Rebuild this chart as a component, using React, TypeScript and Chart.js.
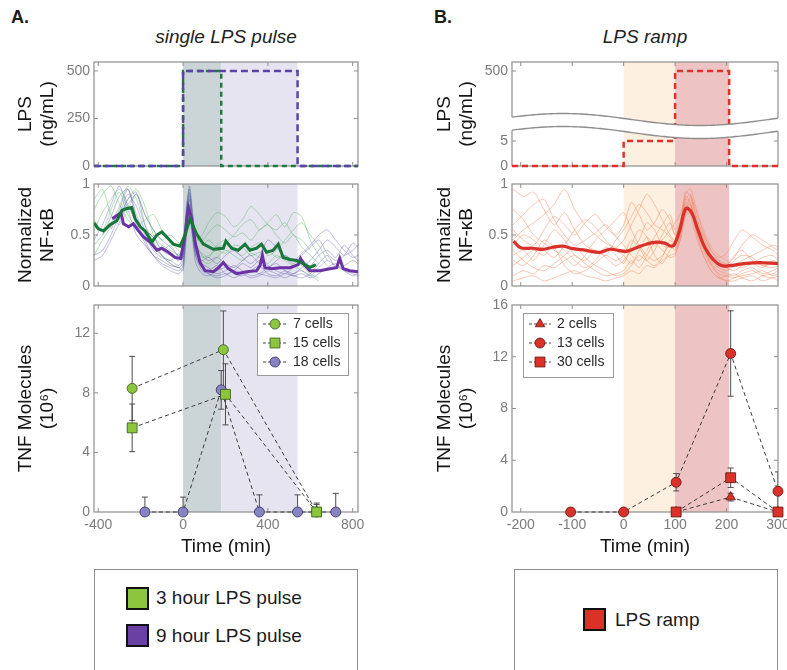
import React, { useEffect, useRef } from 'react';
import { Chart, registerables } from 'chart.js';

Chart.register(...registerables);

const FONT = '"Liberation Sans", "Helvetica Neue", Helvetica, Arial, sans-serif';
const TICK_COLOR = '#7c7c7c';
const FRAME_COLOR = '#8e8e8e';
const TEXT_COLOR = '#151515';
Chart.defaults.font.family = FONT;

// ---------------- axes ----------------
const pulseXRange = [-420, 825];
const rampXRange = [-217, 300];
const pulseXTicks = [-400, 0, 400, 800];
const rampXTicks = [-200, -100, 0, 100, 200, 300];

// ---------------- stimulus bands ----------------
const pulse3Band = [0, 180];
const pulse9Band = [180, 540];
const rampLowBand = [0, 100];
const rampHighBand = [100, 205];

// ---------------- LPS schedules (ng/mL) ----------------
const pulse3Times = [-420, 0, 180, 825];
const pulse3Levels = [0, 500, 0, 0];
const pulse9Times = [-420, 0, 540, 825];
const pulse9Levels = [0, 500, 0, 0];
const rampTimes = [-217, 0, 100, 205, 300];
const rampLevels = [0, 5, 500, 0, 0];
const lpsPulseTicks = [0, 250, 500];
const lpsRampTicks = [0, 5, 500];
const lpsRampTickLabels = ['0', '5', '500'];
const nfkbTicks = [0, 0.5, 1];
const nfkbTickLabels = ['0', '0.5', '1'];

// ---------------- NF-kB single-cell traces, pulse experiment ----------------
const pulseGrid = [-420, -380, -340, -300, -260, -220, -180, -140, -100, -60, -20, 0, 15, 30, 45, 60, 90, 120, 160, 200, 240, 280, 320, 360, 400, 440, 480, 520, 560, 600, 640, 680, 720, 760, 800, 825];
const greenTrace1 = [0.55, 0.72, 0.85, 0.95, 0.80, 0.62, 0.55, 0.48, 0.40, 0.35, 0.30, 0.38, 0.70, 0.85, 0.60, 0.48, 0.45, 0.52, 0.60, 0.55, 0.48, 0.52, 0.45, 0.55, 0.60, 0.50, 0.42, 0.50, 0.38, 0.30, 0.22, null, null, null, null, null];
const greenTrace2 = [0.85, 0.95, 0.70, 0.60, 0.75, 0.90, 0.70, 0.55, 0.45, 0.50, 0.42, 0.40, 0.75, 0.95, 0.70, 0.50, 0.40, 0.45, 0.38, 0.42, 0.50, 0.60, 0.65, 0.55, 0.62, 0.70, 0.58, 0.72, 0.68, 0.45, 0.30, 0.20, null, null, null, null];
const greenTrace3 = [0.40, 0.50, 0.62, 0.78, 0.98, 0.85, 0.60, 0.45, 0.30, 0.22, 0.18, 0.25, 0.55, 0.80, 0.55, 0.35, 0.28, 0.30, 0.35, 0.32, 0.40, 0.38, 0.30, 0.33, 0.35, 0.28, 0.30, 0.25, 0.20, 0.12, 0.08, null, null, null, null, null];
const greenTrace4 = [0.65, 0.55, 0.75, 0.92, 0.70, 0.58, 0.65, 0.70, 0.55, 0.42, 0.35, 0.30, 0.62, 0.90, 0.65, 0.45, 0.50, 0.62, 0.72, 0.68, 0.58, 0.65, 0.78, 0.70, 0.60, 0.55, 0.62, 0.50, 0.45, 0.35, null, null, null, null, null, null];
const greenTrace5 = [0.30, 0.45, 0.58, 0.70, 0.85, 0.95, 0.78, 0.50, 0.35, 0.40, 0.28, 0.32, 0.60, 0.72, 0.50, 0.38, 0.32, 0.28, 0.40, 0.45, 0.35, 0.30, 0.38, 0.42, 0.30, 0.35, 0.45, 0.55, 0.62, 0.50, 0.40, 0.25, null, null, null, null];
const greenTrace6 = [0.75, 0.90, 0.98, 0.80, 0.65, 0.55, 0.45, 0.38, 0.30, 0.25, 0.32, 0.28, 0.50, 0.68, 0.45, 0.30, 0.25, 0.22, 0.28, 0.35, 0.30, 0.25, 0.32, 0.28, 0.22, 0.30, 0.25, 0.20, 0.15, 0.10, 0.05, null, null, null, null, null];
const purpleTrace1 = [null, null, 0.55, 0.75, 0.95, 0.70, 0.50, 0.35, 0.28, 0.25, 0.20, 0.30, 0.75, 0.95, 0.60, 0.30, 0.18, 0.15, 0.20, 0.12, 0.15, 0.22, 0.18, 0.25, 0.20, 0.15, 0.12, 0.18, 0.25, 0.20, 0.30, 0.35, 0.28, 0.40, 0.30, 0.25];
const purpleTrace2 = [0.45, 0.60, 0.80, 0.98, 0.75, 0.50, 0.40, 0.30, 0.22, 0.18, 0.15, 0.20, 0.65, 0.88, 0.50, 0.22, 0.12, 0.10, 0.15, 0.18, 0.12, 0.10, 0.15, 0.20, 0.12, 0.10, 0.15, 0.12, 0.18, 0.25, 0.35, 0.45, 0.38, 0.30, 0.35, 0.40];
const purpleTrace3 = [null, null, null, 0.65, 0.85, 0.92, 0.60, 0.42, 0.30, 0.22, 0.18, 0.22, 0.70, 0.98, 0.72, 0.40, 0.22, 0.18, 0.12, 0.15, 0.20, 0.15, 0.10, 0.12, 0.18, 0.22, 0.15, 0.10, 0.12, 0.08, 0.12, 0.18, 0.22, 0.15, 0.10, 0.12];
const purpleTrace4 = [0.30, 0.35, 0.50, 0.70, 0.90, 0.78, 0.55, 0.48, 0.35, 0.30, 0.25, 0.28, 0.60, 0.80, 0.55, 0.32, 0.25, 0.28, 0.22, 0.30, 0.35, 0.28, 0.22, 0.30, 0.45, 0.38, 0.28, 0.22, 0.30, 0.38, 0.45, 0.32, 0.25, 0.30, 0.42, 0.38];
const purpleTrace5 = [null, 0.50, 0.68, 0.88, 0.95, 0.65, 0.45, 0.30, 0.20, 0.15, 0.12, 0.18, 0.55, 0.85, 0.60, 0.35, 0.20, 0.12, 0.08, 0.10, 0.15, 0.12, 0.08, 0.10, 0.15, 0.12, 0.08, 0.12, 0.15, 0.10, 0.18, 0.25, 0.20, 0.15, 0.12, 0.10];
const purpleTrace6 = [null, null, 0.60, 0.72, 0.80, 0.90, 0.70, 0.55, 0.45, 0.38, 0.30, 0.35, 0.68, 0.92, 0.68, 0.42, 0.30, 0.25, 0.28, 0.22, 0.18, 0.25, 0.30, 0.22, 0.18, 0.25, 0.30, 0.25, 0.32, 0.40, 0.50, 0.55, 0.45, 0.35, 0.28, 0.30];
const purpleTrace7 = [0.25, 0.30, 0.45, 0.62, 0.78, 0.60, 0.42, 0.30, 0.25, 0.20, 0.18, 0.15, 0.45, 0.75, 0.50, 0.28, 0.15, 0.12, 0.10, 0.12, 0.08, 0.12, 0.15, 0.12, 0.10, 0.08, 0.12, 0.10, 0.08, 0.12, 0.22, 0.30, 0.18, 0.20, 0.25, 0.22];

// population means
const greenMeanTimes = [-420, -400, -375, -344, -312, -289, -265, -242, -226, -202, -179, -147, -124, -100, -77, -45, -14, 9, 33, 64, 96, 143, 190, 202, 229, 260, 292, 315, 347, 370, 394, 425, 449, 472, 504, 535, 566, 598, 626];
const greenMeanVals = [0.62, 0.56, 0.54, 0.60, 0.64, 0.74, 0.76, 0.77, 0.66, 0.58, 0.54, 0.43, 0.50, 0.53, 0.48, 0.41, 0.39, 0.50, 0.66, 0.51, 0.41, 0.36, 0.37, 0.44, 0.37, 0.35, 0.41, 0.35, 0.37, 0.41, 0.33, 0.35, 0.41, 0.28, 0.26, 0.25, 0.22, 0.18, 0.21];
const purpleMeanTimes = [-334, -312, -293, -281, -257, -234, -210, -186, -155, -124, -100, -69, -38, -11, 9, 25, 41, 57, 80, 104, 143, 167, 190, 213, 253, 300, 347, 363, 374, 386, 418, 457, 504, 543, 554, 575, 598, 645, 692, 724, 739, 755, 786, 825];
const purpleMeanVals = [0.66, 0.69, 0.72, 0.61, 0.58, 0.61, 0.54, 0.48, 0.43, 0.35, 0.37, 0.33, 0.28, 0.27, 0.50, 0.77, 0.66, 0.43, 0.23, 0.15, 0.14, 0.18, 0.23, 0.17, 0.12, 0.14, 0.15, 0.20, 0.30, 0.18, 0.17, 0.18, 0.18, 0.21, 0.27, 0.20, 0.15, 0.15, 0.17, 0.18, 0.27, 0.17, 0.15, 0.14];

// ---------------- NF-kB single-cell traces, ramp experiment ----------------
const rampGrid = [-215, -195, -175, -155, -135, -115, -95, -75, -55, -35, -15, 0, 15, 30, 45, 60, 75, 90, 100, 110, 120, 130, 140, 155, 170, 185, 200, 215, 230, 250, 270, 290, 300];
const orangeTrace1 = [0.95, 0.88, 0.92, 0.75, 0.60, 0.72, 0.55, 0.40, 0.35, 0.30, 0.45, 0.55, 0.68, 0.80, 0.72, 0.60, 0.55, 0.48, 0.42, 0.55, 0.85, 0.90, 0.70, 0.45, 0.25, 0.18, 0.15, 0.20, 0.25, 0.30, 0.35, 0.40, 0.38];
const orangeTrace2 = [0.30, 0.35, 0.25, 0.40, 0.55, 0.45, 0.30, 0.25, 0.35, 0.28, 0.20, 0.25, 0.35, 0.45, 0.62, 0.55, 0.40, 0.38, 0.45, 0.60, 0.80, 0.75, 0.55, 0.35, 0.20, 0.12, 0.10, 0.08, 0.12, 0.15, 0.10, 0.08, 0.10];
const orangeTrace3 = [0.60, 0.70, 0.80, 0.85, 0.65, 0.50, 0.40, 0.45, 0.52, 0.60, 0.48, 0.40, 0.30, 0.25, 0.35, 0.48, 0.60, 0.70, 0.55, 0.62, 0.92, 0.88, 0.65, 0.40, 0.28, 0.22, 0.18, 0.25, 0.30, 0.28, 0.20, 0.22, 0.25];
const orangeTrace4 = [0.10, 0.15, 0.12, 0.20, 0.18, 0.25, 0.30, 0.22, 0.15, 0.10, 0.12, 0.15, 0.25, 0.18, 0.30, 0.42, 0.35, 0.28, 0.30, 0.48, 0.75, 0.80, 0.62, 0.38, 0.22, 0.10, 0.05, 0.08, 0.10, 0.12, 0.15, 0.10, 0.12];
const orangeTrace5 = [0.45, 0.55, 0.62, 0.70, 0.80, 0.95, 0.75, 0.60, 0.50, 0.42, 0.38, 0.45, 0.60, 0.75, 0.90, 0.80, 0.65, 0.50, 0.45, 0.58, 0.88, 0.82, 0.60, 0.50, 0.35, 0.25, 0.22, 0.28, 0.40, 0.50, 0.45, 0.38, 0.35];
const orangeTrace6 = [0.35, 0.25, 0.18, 0.15, 0.22, 0.30, 0.38, 0.28, 0.20, 0.15, 0.10, 0.12, 0.20, 0.30, 0.25, 0.35, 0.50, 0.62, 0.50, 0.55, 0.78, 0.85, 0.70, 0.48, 0.30, 0.20, 0.18, 0.15, 0.20, 0.22, 0.18, 0.25, 0.22];
const orangeTrace7 = [0.75, 0.65, 0.50, 0.42, 0.35, 0.28, 0.20, 0.30, 0.45, 0.55, 0.65, 0.72, 0.55, 0.40, 0.30, 0.25, 0.30, 0.40, 0.35, 0.52, 0.82, 0.78, 0.55, 0.30, 0.15, 0.08, 0.10, 0.12, 0.08, 0.05, 0.10, 0.12, 0.15];
const orangeTrace8 = [0.20, 0.28, 0.35, 0.30, 0.40, 0.35, 0.25, 0.18, 0.25, 0.38, 0.30, 0.22, 0.40, 0.55, 0.48, 0.30, 0.22, 0.35, 0.40, 0.50, 0.70, 0.88, 0.75, 0.55, 0.38, 0.30, 0.25, 0.20, 0.18, 0.22, 0.28, 0.30, 0.25];
const orangeTrace9 = [0.05, 0.08, 0.10, 0.05, 0.08, 0.12, 0.15, 0.10, 0.08, 0.05, 0.08, 0.10, 0.15, 0.12, 0.20, 0.18, 0.25, 0.30, 0.32, 0.45, 0.72, 0.70, 0.50, 0.30, 0.15, 0.08, 0.05, 0.05, 0.08, 0.10, 0.05, 0.08, 0.05];
const orangeTrace10 = [0.55, 0.45, 0.40, 0.55, 0.68, 0.60, 0.50, 0.62, 0.70, 0.58, 0.50, 0.60, 0.82, 0.70, 0.55, 0.62, 0.75, 0.65, 0.50, 0.62, 0.90, 0.95, 0.78, 0.52, 0.35, 0.28, 0.32, 0.45, 0.55, 0.48, 0.40, 0.35, 0.30];
const orangeTrace11 = [0.25, 0.20, 0.30, 0.45, 0.38, 0.20, 0.12, 0.15, 0.22, 0.30, 0.25, 0.30, 0.45, 0.38, 0.25, 0.20, 0.28, 0.45, 0.38, 0.45, 0.68, 0.72, 0.58, 0.40, 0.22, 0.15, 0.12, 0.10, 0.15, 0.18, 0.12, 0.15, 0.18];
const orangeTrace12 = [0.40, 0.50, 0.45, 0.35, 0.28, 0.40, 0.55, 0.65, 0.58, 0.45, 0.35, 0.30, 0.22, 0.35, 0.48, 0.40, 0.45, 0.55, 0.62, 0.70, 0.85, 0.80, 0.60, 0.42, 0.30, 0.25, 0.20, 0.30, 0.35, 0.25, 0.20, 0.18, 0.20];
const redMeanTimes = [-214, -200, -177, -157, -138, -118, -99, -73, -47, -27, -11, 5, 25, 44, 64, 80, 93, 99, 109, 121, 132, 145, 158, 174, 190, 207, 233, 265, 300];
const redMeanVals = [0.44, 0.375, 0.37, 0.36, 0.38, 0.39, 0.366, 0.35, 0.33, 0.36, 0.35, 0.34, 0.375, 0.41, 0.43, 0.42, 0.39, 0.41, 0.55, 0.76, 0.72, 0.54, 0.375, 0.26, 0.20, 0.20, 0.22, 0.23, 0.22];

// ---------------- TNF secretion (10^6 molecules) ----------------
const tnf7Times = [-240, 190, 630];
const tnf7Vals = [8.3, 10.9, 0];
const tnf7Err = [2.15, 2.6, 0.5];
const tnf15Times = [-240, 200, 630];
const tnf15Vals = [5.65, 7.9, 0];
const tnf15Err = [1.6, 2.05, 0.6];
const tnf18Times = [-180, 0, 180, 360, 540, 720];
const tnf18Vals = [0, 0, 8.2, 0, 0, 0];
const tnf18Err = [1.0, 1.0, 1.3, 1.15, 1.15, 1.25];
const tnf2Times = [102, 208, 300];
const tnf2Vals = [0, 1.15, 0];
const tnf2Err = [0.1, 0.3, 0.1];
const tnf13Times = [-103, 0, 102, 208, 300];
const tnf13Vals = [0, 0, 2.3, 12.25, 1.6];
const tnf13Err = [0, 0, 0.67, 3.3, 1.5];
const tnf30Times = [102, 208, 300];
const tnf30Vals = [0, 2.65, 0];
const tnf30Err = [0.1, 0.75, 0.1];
const tnfPulseTicks = [0, 4, 8, 12];
const tnfRampTicks = [0, 4, 8, 12, 16];

// ---------------- styles ----------------
const GREEN_FILL = '#8cc63f';
const GREEN_EDGE = '#35531a';
const PURPLE_FILL = '#8783c4';
const PURPLE_EDGE = '#33305c';
const RED_FILL = '#dc3128';
const RED_EDGE = '#5c130f';

const ROWS = [
  { top: 50, height: 125, pt: 12, xh: 9 },
  { top: 175, height: 120, pt: 9, xh: 9 },
  { top: 295, height: 265, pt: 10, xh: 48 },
];
const COLS: any = {
  A: { left: 0, width: 380, yw: 94, pr: 22, tp: 15 },
  B: { left: 400, width: 387, yw: 112, pr: 9, tp: 34 },
};

function pts(times: number[], vals: (number | null)[]) {
  return times.map((t, i) => ({ x: t, y: vals[i] }));
}

function rampY(v: number) {
  return v <= 10 ? v * 5 : 95 + (v - 500) * 0.1;
}

function drawMarker(ctx: CanvasRenderingContext2D, shape: string, x: number, y: number, r: number, bg: string, border: string) {
  ctx.save();
  ctx.setLineDash([]);
  ctx.beginPath();
  if (shape === 'circle') ctx.arc(x, y, r, 0, Math.PI * 2);
  else if (shape === 'rect') {
    const s = r * Math.SQRT1_2;
    ctx.rect(x - s, y - s, 2 * s, 2 * s);
  } else {
    for (let k = 0; k < 3; k++) {
      const ang = (k * 2 * Math.PI) / 3;
      const px = x + Math.sin(ang) * r;
      const py = y - Math.cos(ang) * r;
      if (k) ctx.lineTo(px, py);
      else ctx.moveTo(px, py);
    }
    ctx.closePath();
  }
  ctx.fillStyle = bg;
  ctx.fill();
  ctx.strokeStyle = border;
  ctx.lineWidth = 0.8;
  ctx.stroke();
  ctx.restore();
}

const decoPlugin: any = {
  id: 'deco',
  beforeDatasetsDraw(chart: any, _a: any, o: any) {
    const ctx: CanvasRenderingContext2D = chart.ctx;
    const a = chart.chartArea;
    const xs = chart.scales.x;
    const ys = chart.scales.y;
    ctx.save();
    (o.bands || []).forEach((b: any) => {
      const x1 = Math.max(a.left, xs.getPixelForValue(b.from));
      const x2 = Math.min(a.right, xs.getPixelForValue(b.to));
      ctx.fillStyle = b.color;
      ctx.fillRect(x1, a.top, x2 - x1, a.bottom - a.top);
    });
    ctx.strokeStyle = FRAME_COLOR;
    ctx.lineWidth = 1.2;
    ctx.strokeRect(a.left, a.top, a.right - a.left, a.bottom - a.top);
    ctx.lineWidth = 1;
    ctx.beginPath();
    xs.ticks.forEach((t: any) => {
      const px = xs.getPixelForValue(t.value);
      if (px < a.left + 1 || px > a.right - 1) return;
      ctx.moveTo(px, a.bottom);
      ctx.lineTo(px, a.bottom - 4);
      ctx.moveTo(px, a.top);
      ctx.lineTo(px, a.top + 4);
    });
    ys.ticks.forEach((t: any) => {
      const py = ys.getPixelForValue(t.value);
      if (py < a.top + 1 || py > a.bottom - 1) return;
      ctx.moveTo(a.left, py);
      ctx.lineTo(a.left + 4, py);
      ctx.moveTo(a.right, py);
      ctx.lineTo(a.right - 4, py);
    });
    ctx.stroke();
    // error bars
    ctx.beginPath();
    ctx.rect(a.left, a.top, a.right - a.left, a.bottom - a.top);
    ctx.clip();
    ctx.strokeStyle = '#4d4d4d';
    ctx.lineWidth = 1;
    chart.data.datasets.forEach((ds: any, i: number) => {
      if (!ds.errors) return;
      const meta = chart.getDatasetMeta(i);
      ds.data.forEach((p: any, j: number) => {
        const e = ds.errors[j];
        if (!e) return;
        const px = meta.data[j].x;
        const yt = ys.getPixelForValue(p.y + e);
        const yb = ys.getPixelForValue(p.y - e);
        ctx.beginPath();
        ctx.moveTo(px, yt);
        ctx.lineTo(px, yb);
        ctx.moveTo(px - 3, yt);
        ctx.lineTo(px + 3, yt);
        ctx.moveTo(px - 3, yb);
        ctx.lineTo(px + 3, yb);
        ctx.stroke();
      });
    });
    ctx.restore();
  },
  afterDatasetsDraw(chart: any, _a: any, o: any) {
    const ctx: CanvasRenderingContext2D = chart.ctx;
    const a = chart.chartArea;
    if (o.breakAxis) {
      const base = a.top + 57.5;
      const amp = 6;
      const period = 274;
      const phaseX = a.left + 51;
      const gap = 13;
      const f = (x: number) => base - amp * Math.cos((2 * Math.PI * (x - phaseX)) / period);
      const x0 = a.left - 2;
      const x1 = a.right + 2;
      ctx.save();
      ctx.beginPath();
      ctx.moveTo(x0, f(x0));
      for (let x = x0; x <= x1; x += 2) ctx.lineTo(x, f(x));
      for (let x = x1; x >= x0; x -= 2) ctx.lineTo(x, f(x) + gap);
      ctx.closePath();
      ctx.fillStyle = '#ffffff';
      ctx.fill();
      ctx.strokeStyle = FRAME_COLOR;
      ctx.lineWidth = 1.4;
      ctx.beginPath();
      for (let x = a.left; x <= a.right; x += 2) (x === a.left ? ctx.moveTo(x, f(x)) : ctx.lineTo(x, f(x)));
      ctx.stroke();
      ctx.beginPath();
      for (let x = a.left; x <= a.right; x += 2) (x === a.left ? ctx.moveTo(x, f(x) + gap) : ctx.lineTo(x, f(x) + gap));
      ctx.stroke();
      ctx.restore();
    }
    if (o.legend) {
      const L = o.legend;
      const bx = a.left + L.x;
      const by = a.top + L.y;
      ctx.save();
      ctx.fillStyle = '#ffffff';
      ctx.fillRect(bx, by, L.w, L.h);
      ctx.strokeStyle = '#9a9a9a';
      ctx.lineWidth = 1;
      ctx.strokeRect(bx + 0.5, by + 0.5, L.w, L.h);
      L.items.forEach((it: any, k: number) => {
        const cy = by + 11 + k * 19;
        ctx.strokeStyle = '#444';
        ctx.lineWidth = 1;
        ctx.setLineDash([3, 2]);
        ctx.beginPath();
        ctx.moveTo(bx + 6, cy);
        ctx.lineTo(bx + 2 * L.mk - 6, cy);
        ctx.stroke();
        ctx.setLineDash([]);
        drawMarker(ctx, it.shape, bx + L.mk, cy, it.r, it.bg, it.border);
        ctx.fillStyle = '#2a2a2a';
        ctx.font = '14px ' + FONT;
        ctx.textBaseline = 'middle';
        ctx.textAlign = 'left';
        ctx.fillText(it.label, bx + L.tx, cy);
      });
      ctx.restore();
    }
  },
};
Chart.register(decoPlugin);

type Spec = {
  col: 'A' | 'B';
  row: number;
  datasets: any[];
  xRange: number[];
  xTicks: number[];
  yRange: number[];
  yTicks: number[];
  yTickLabels?: string[];
  yTitle: string[];
  bands: any[];
  legend?: any;
  breakAxis?: boolean;
};

function buildConfig(s: Spec): any {
  const c = COLS[s.col];
  const r = ROWS[s.row];
  const showX = s.row === 2;
  const yTicksOpt: any = { padding: 4, color: TICK_COLOR, font: { family: FONT, size: 14 }, autoSkip: false };
  if (s.yTickLabels) {
    const labels = s.yTickLabels;
    yTicksOpt.callback = (_v: any, i: number) => labels[i];
  }
  return {
    type: 'line',
    data: { datasets: s.datasets },
    options: {
      responsive: false,
      animation: false,
      devicePixelRatio: 1,
      events: [],
      layout: { autoPadding: false, padding: { left: 0, top: r.pt, right: c.pr, bottom: 0 } },
      plugins: {
        legend: { display: false },
        tooltip: { enabled: false },
        deco: { bands: s.bands, legend: s.legend, breakAxis: !!s.breakAxis },
      },
      scales: {
        x: {
          type: 'linear',
          min: s.xRange[0],
          max: s.xRange[1],
          afterBuildTicks: (sc: any) => {
            sc.ticks = s.xTicks.map((v) => ({ value: v }));
          },
          afterFit: (sc: any) => {
            sc.height = r.xh;
            sc.paddingLeft = 0;
            sc.paddingRight = 0;
          },
          grid: { display: false, drawTicks: false },
          border: { display: false },
          ticks: { display: showX, autoSkip: false, maxRotation: 0, padding: 5, color: TICK_COLOR, font: { family: FONT, size: 14 } },
          title: { display: showX, text: 'Time (min)', color: TEXT_COLOR, font: { family: FONT, size: 19 }, padding: { top: 0, bottom: 2 } },
        },
        y: {
          type: 'linear',
          min: s.yRange[0],
          max: s.yRange[1],
          afterBuildTicks: (sc: any) => {
            sc.ticks = s.yTicks.map((v) => ({ value: v }));
          },
          afterFit: (sc: any) => {
            sc.width = c.yw;
            sc.paddingTop = 0;
            sc.paddingBottom = 0;
          },
          grid: { display: false, drawTicks: false },
          border: { display: false },
          ticks: yTicksOpt,
          title: { display: true, text: s.yTitle, color: TEXT_COLOR, font: { family: FONT, size: 19, lineHeight: 1.15 }, padding: { top: c.tp, bottom: 0 } },
        },
      },
    },
  };
}

function stepDs(times: number[], levels: number[], color: string, dash: number[], order: number, map?: (v: number) => number) {
  return {
    data: pts(times, levels.map((v) => (map ? map(v) : v))),
    borderColor: color,
    borderWidth: 2.5,
    borderDash: dash,
    stepped: true,
    pointRadius: 0,
    clip: false,
    order,
  };
}

function traceDs(times: number[], vals: (number | null)[], color: string, width: number, order: number, tension = 0.25) {
  return { data: pts(times, vals), borderColor: color, borderWidth: width, pointRadius: 0, tension, order };
}

function tnfDs(times: number[], vals: number[], errs: number[], shape: string, r: number, bg: string, border: string, order: number) {
  return {
    data: pts(times, vals),
    errors: errs,
    borderColor: '#3c3c3c',
    borderWidth: 1,
    borderDash: [4, 3],
    pointStyle: shape,
    pointRadius: r,
    pointBackgroundColor: bg,
    pointBorderColor: border,
    pointBorderWidth: 0.8,
    tension: 0,
    clip: false,
    order,
  };
}

const pulseBands = () => [
  { from: pulse3Band[0], to: pulse3Band[1], color: '#cbd4d6' },
  { from: pulse9Band[0], to: pulse9Band[1], color: '#e6e4f0' },
];
const rampBands = () => [
  { from: rampLowBand[0], to: rampLowBand[1], color: '#fdf0e0' },
  { from: rampHighBand[0], to: rampHighBand[1], color: '#eec3c4' },
];

const GREEN_THIN = 'rgba(86,182,92,0.55)';
const PURPLE_THIN = 'rgba(92,88,178,0.5)';
const ORANGE_THIN = 'rgba(240,138,96,0.6)';

const SPECS: (() => Spec)[] = [
  () => ({
    col: 'A', row: 0,
    datasets: [
      stepDs(pulse9Times, pulse9Levels, '#5a44a8', [7, 4], 0),
      stepDs(pulse3Times, pulse3Levels, '#1e7b3e', [5, 4], 1),
    ],
    xRange: pulseXRange, xTicks: pulseXTicks,
    yRange: [0, 547], yTicks: lpsPulseTicks,
    yTitle: ['LPS', '(ng/mL)'], bands: pulseBands(),
  }),
  () => ({
    col: 'B', row: 0,
    datasets: [stepDs(rampTimes, rampLevels, '#e0302a', [6, 4], 0, rampY)],
    xRange: rampXRange, xTicks: rampXTicks,
    yRange: [0, 104], yTicks: lpsRampTicks.map(rampY), yTickLabels: lpsRampTickLabels,
    yTitle: ['LPS', '(ng/mL)'], bands: rampBands(), breakAxis: true,
  }),
  () => ({
    col: 'A', row: 1,
    datasets: [
      traceDs(greenMeanTimes, greenMeanVals, '#17773b', 3, 0, 0),
      traceDs(purpleMeanTimes, purpleMeanVals, '#6a32a4', 3, 1, 0),
      ...[greenTrace1, greenTrace2, greenTrace3, greenTrace4, greenTrace5, greenTrace6].map((v) => traceDs(pulseGrid, v, GREEN_THIN, 0.8, 5)),
      ...[purpleTrace1, purpleTrace2, purpleTrace3, purpleTrace4, purpleTrace5, purpleTrace6, purpleTrace7].map((v) => traceDs(pulseGrid, v, PURPLE_THIN, 0.8, 4)),
    ],
    xRange: pulseXRange, xTicks: pulseXTicks,
    yRange: [0, 1], yTicks: nfkbTicks, yTickLabels: nfkbTickLabels,
    yTitle: ['Normalized', 'NF-κB'], bands: pulseBands(),
  }),
  () => ({
    col: 'B', row: 1,
    datasets: [
      traceDs(redMeanTimes, redMeanVals, '#d9302a', 3.2, 0, 0.4),
      ...[orangeTrace1, orangeTrace2, orangeTrace3, orangeTrace4, orangeTrace5, orangeTrace6, orangeTrace7, orangeTrace8, orangeTrace9, orangeTrace10, orangeTrace11, orangeTrace12].map((v) => traceDs(rampGrid, v, ORANGE_THIN, 0.8, 4)),
    ],
    xRange: rampXRange, xTicks: rampXTicks,
    yRange: [0, 1], yTicks: nfkbTicks, yTickLabels: nfkbTickLabels,
    yTitle: ['Normalized', 'NF-κB'], bands: rampBands(),
  }),
  () => ({
    col: 'A', row: 2,
    datasets: [
      tnfDs(tnf15Times, tnf15Vals, tnf15Err, 'rect', 7, GREEN_FILL, GREEN_EDGE, 1),
      tnfDs(tnf7Times, tnf7Vals, tnf7Err, 'circle', 5, GREEN_FILL, GREEN_EDGE, 2),
      tnfDs(tnf18Times, tnf18Vals, tnf18Err, 'circle', 5, PURPLE_FILL, PURPLE_EDGE, 3),
    ],
    xRange: pulseXRange, xTicks: pulseXTicks,
    yRange: [0, 13.9], yTicks: tnfPulseTicks,
    yTitle: ['TNF Molecules', '(10⁶)'], bands: pulseBands(),
    legend: {
      x: 163, y: 8, w: 91, h: 62, mk: 18, tx: 36,
      items: [
        { shape: 'circle', r: 5, bg: GREEN_FILL, border: GREEN_EDGE, label: '7 cells' },
        { shape: 'rect', r: 7, bg: GREEN_FILL, border: GREEN_EDGE, label: '15 cells' },
        { shape: 'circle', r: 5, bg: PURPLE_FILL, border: PURPLE_EDGE, label: '18 cells' },
      ],
    },
  }),
  () => ({
    col: 'B', row: 2,
    datasets: [
      tnfDs(tnf13Times, tnf13Vals, tnf13Err, 'circle', 5, RED_FILL, RED_EDGE, 1),
      tnfDs(tnf30Times, tnf30Vals, tnf30Err, 'rect', 7, RED_FILL, RED_EDGE, 2),
      tnfDs(tnf2Times, tnf2Vals, tnf2Err, 'triangle', 5.5, RED_FILL, RED_EDGE, 3),
    ],
    xRange: rampXRange, xTicks: rampXTicks,
    yRange: [0, 16], yTicks: tnfRampTicks,
    yTitle: ['TNF Molecules', '(10⁶)'], bands: rampBands(),
    legend: {
      x: 11, y: 8, w: 90, h: 64, mk: 17, tx: 34,
      items: [
        { shape: 'triangle', r: 5.5, bg: RED_FILL, border: RED_EDGE, label: '2 cells' },
        { shape: 'circle', r: 5, bg: RED_FILL, border: RED_EDGE, label: '13 cells' },
        { shape: 'rect', r: 7, bg: RED_FILL, border: RED_EDGE, label: '30 cells' },
      ],
    },
  }),
];

function Panel({ make }: { make: () => Spec }) {
  const ref = useRef<HTMLCanvasElement>(null);
  const spec = make();
  const c = COLS[spec.col];
  const r = ROWS[spec.row];
  useEffect(() => {
    const chart = new Chart(ref.current as HTMLCanvasElement, buildConfig(make()));
    return () => chart.destroy();
  }, []);
  return (
    <canvas
      ref={ref}
      width={c.width}
      height={r.height}
      style={{ position: 'absolute', left: c.left, top: r.top, width: c.width, height: r.height }}
    />
  );
}

const txt = (extra: any): any => ({ position: 'absolute', whiteSpace: 'nowrap', color: '#1c1c1c', ...extra });

function Swatch({ left, top, color }: { left: number; top: number; color: string }) {
  return (
    <div
      style={{ position: 'absolute', left, top, width: 23, height: 23, boxSizing: 'border-box', border: '2px solid #111', background: color }}
    />
  );
}

export default function App() {
  return (
    <div style={{ position: 'fixed', left: 0, top: 0, width: 787, height: 670, background: '#ffffff', overflow: 'hidden', fontFamily: FONT }}>
      <div style={txt({ left: 11, top: 7, fontSize: 18, lineHeight: '20px', fontWeight: 700 })}>A.</div>
      <div style={txt({ left: 434, top: 7, fontSize: 18, lineHeight: '20px', fontWeight: 700 })}>B.</div>
      <div style={txt({ left: 126, width: 200, top: 26, fontSize: 19, lineHeight: '22px', fontStyle: 'italic', textAlign: 'center', color: '#222' })}>single LPS pulse</div>
      <div style={txt({ left: 545, width: 200, top: 26, fontSize: 19, lineHeight: '22px', fontStyle: 'italic', textAlign: 'center', color: '#222' })}>LPS ramp</div>
      {SPECS.map((m, i) => (
        <Panel key={i} make={m} />
      ))}
      <div style={{ position: 'absolute', left: 94, top: 569, width: 264, height: 130, boxSizing: 'border-box', border: '1px solid #8e8e8e' }} />
      <Swatch left={126} top={587} color={GREEN_FILL} />
      <div style={txt({ left: 156, top: 587, fontSize: 19, lineHeight: '22px' })}>3 hour LPS pulse</div>
      <Swatch left={126} top={624} color="#6a40a5" />
      <div style={txt({ left: 156, top: 625, fontSize: 19, lineHeight: '22px' })}>9 hour LPS pulse</div>
      <div style={{ position: 'absolute', left: 514, top: 569, width: 264, height: 130, boxSizing: 'border-box', border: '1px solid #8e8e8e' }} />
      <Swatch left={583} top={608} color={RED_FILL} />
      <div style={txt({ left: 615, top: 609, fontSize: 19, lineHeight: '22px' })}>LPS ramp</div>
    </div>
  );
}
